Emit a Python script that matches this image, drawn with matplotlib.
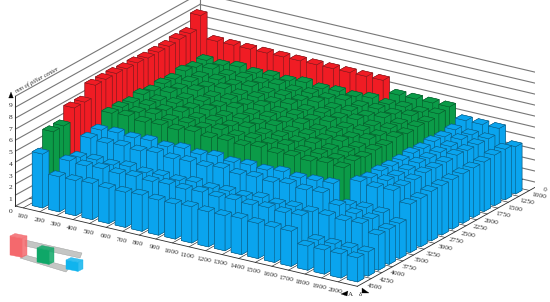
#pillar heights as 3d bars, axonometric view
import numpy as np
import matplotlib
matplotlib.use("Agg")
import matplotlib.pyplot as plt
from matplotlib.patches import Polygon
from mpl_toolkits.mplot3d import proj3d

plt.rcParams['font.family'] = ['Liberation Serif', 'DejaVu Serif']

x_labels = [str(v) for v in range(100, 2100, 100)]
y_labels = ['0', '1000', '1250', '1500', '1750', '2000', '2250', '2500', '2750',
            '3000', '3250', '3500', '3750', '4000', '4250', '4500']
z_labels = [str(v) for v in range(10)]

# one list per row, back row first
row_0 = [9.5, 7.5, 7.5, 7.5, 7.5, 7.5, 7.5, 7.5, 7.5, 7.5, 7.5, 7.5, 6.5, 6.5, 6.5, 6.5, 5.6, 5.6, 5.6, 4.3]
row_1 = [8.4, 6.3, 6.2, 6.4, 6.2, 6.3, 6.2, 6.4, 6.2, 6.3, 6.2, 6.4, 6.2, 6.3, 6.2, 6.4, 5.3, 5.2, 5.2, 4.6]
row_2 = [8.4, 6.2, 6.4, 6.2, 6.3, 6.2, 6.4, 6.2, 6.3, 6.2, 6.4, 6.2, 6.3, 6.2, 6.4, 6.2, 5.2, 5.3, 5.2, 4.6]
row_3 = [8.3, 6.4, 6.2, 6.3, 6.2, 6.4, 6.2, 6.3, 6.2, 6.4, 6.2, 6.3, 6.2, 6.4, 6.2, 6.3, 5.3, 5.2, 5.2, 4.5]
row_4 = [8.3, 6.2, 6.3, 6.2, 6.4, 6.2, 6.3, 6.2, 6.4, 6.2, 6.3, 6.2, 6.4, 6.2, 6.3, 6.2, 5.2, 5.2, 5.3, 4.5]
row_5 = [8.3, 6.3, 6.2, 6.4, 6.2, 6.3, 6.2, 6.4, 6.2, 6.3, 6.2, 6.4, 6.2, 6.3, 6.2, 6.4, 5.3, 5.2, 5.2, 4.5]
row_6 = [8.4, 6.2, 6.4, 6.2, 6.3, 6.2, 6.4, 6.2, 6.3, 6.2, 6.4, 6.2, 6.3, 6.2, 6.4, 6.2, 5.2, 5.3, 5.2, 4.5]
row_7 = [8.4, 6.4, 6.2, 6.3, 6.2, 6.4, 6.2, 6.3, 6.2, 6.4, 6.2, 6.3, 6.2, 6.4, 6.2, 6.3, 5.2, 5.2, 5.3, 4.5]
row_8 = [8.5, 6.2, 6.3, 6.2, 6.4, 6.2, 6.3, 6.2, 6.4, 6.2, 6.3, 6.2, 6.4, 6.2, 6.3, 6.2, 5.3, 5.2, 5.2, 4.5]
row_9 = [8.5, 6.3, 6.2, 6.4, 6.2, 6.3, 6.2, 6.4, 6.2, 6.3, 6.2, 6.4, 6.2, 6.3, 6.2, 6.4, 5.2, 5.3, 5.2, 4.4]
row_10 = [8.5, 6.3, 6.4, 6.2, 6.3, 6.2, 6.4, 6.2, 6.3, 6.2, 6.4, 6.2, 6.3, 6.2, 6.4, 6.3, 5.4, 5.2, 5.3, 4.4]
row_11 = [7.5, 5.3, 5.4, 5.3, 5.4, 5.2, 5.4, 5.2, 5.4, 5.2, 5.3, 5.2, 5.4, 5.2, 5.3, 5.4, 3.8, 3.9, 3.8, 3.2]
row_12 = [7.5, 5.1, 5.0, 5.1, 5.0, 5.2, 5.0, 5.1, 5.0, 5.2, 5.0, 5.1, 5.0, 5.2, 5.0, 5.1, 4.3, 3.9, 3.8, 3.2]
row_13 = [6.4, 3.9, 4.0, 3.9, 4.1, 3.9, 4.0, 3.9, 4.1, 3.9, 4.0, 3.9, 4.1, 3.9, 4.0, 3.9, 3.9, 3.8, 3.9, 3.2]
row_14 = [6.4, 4.1, 4.0, 4.1, 4.0, 4.1, 4.0, 4.1, 4.0, 4.1, 4.0, 4.1, 4.0, 4.1, 4.0, 4.1, 2.2, 2.2, 2.2, 2.2]
row_15 = [4.9, 3.2, 3.2, 3.3, 3.2, 3.2, 3.3, 3.2, 3.2, 3.3, 3.2, 3.2, 3.3, 3.2, 3.2, 3.2, 2.2, 2.2, 2.2, 2.2]
heights = np.array([row_0, row_1, row_2, row_3, row_4, row_5, row_6, row_7, row_8,
                    row_9, row_10, row_11, row_12, row_13, row_14, row_15])

red = '#f01c24'
green = '#0b9b48'
blue = '#0aa4ee'
edge = {red: '#7d1a1e', green: '#075a2b', blue: '#0b5a80'}
ink = '#2a2a2a'

fig = plt.figure(figsize=(5.5, 3.02), dpi=100)
S = 527
ax = fig.add_axes([8/550, -108.5/302, S/550, S/302], projection='3d', proj_type='ortho')
ax.set_box_aspect((408, 339, 118))
ax.view_init(elev=21.2, azim=-57)
ax.set_axis_off()
ax.patch.set_alpha(0)
ax.computed_zorder = False

nx = heights.shape[1]
ny = heights.shape[0]
x0, x1 = -0.67, 19.95
y0, y1 = -1.37, 16.13
ax.set_xlim(x0, x1)
ax.set_ylim(y1, y0)
ax.set_zlim(0, 10)

# walls and floor
wall = '#777777'
for z in range(0, 11):
    ax.plot([x0, x0], [y1, y0], [z, z], color=wall, lw=0.8, zorder=1)
    ax.plot([x0, x1], [y0, y0], [z, z], color=wall, lw=0.8, zorder=1)
ax.plot([x0, x0], [y1, y1], [0, 10], color=ink, lw=0.7, zorder=1)
ax.plot([x1, x1], [y0, y0], [0, 10], color=wall, lw=0.8, zorder=1)
ax.plot([x0, x0], [y0, y0], [0, 10], color=wall, lw=0.8, zorder=1)
ax.plot([x0, x1], [y1, y1], [0, 0], color=ink, lw=0.6, zorder=1)
ax.plot([x1, x1], [y0, y1], [0, 0], color=ink, lw=0.6, zorder=1)
for i in range(nx):
    ax.plot([i - 0.2, i - 0.2], [y0, y1], [0, 0], color=ink, lw=0.45, zorder=1)
for j in range(ny):
    ax.plot([x0, x1], [j - 0.2, j - 0.2], [0, 0], color=ink, lw=0.45, zorder=1)

# bars
xx, yy = np.meshgrid(np.arange(nx), np.arange(ny))
hs = heights.ravel()
cols = [red if h >= 7 else green if h >= 5.8 else blue for h in hs]
edges = [edge[c] for c in cols for _ in range(6)]
ax.bar3d(xx.ravel(), yy.ravel(), np.zeros_like(hs), 0.63, 0.6, hs, color=cols, shade=False,
         edgecolor=edges, linewidth=0.35, zorder=2)

# tick labels, projected to plain 2d text
M = ax.get_proj()
def label(x, y, z, s, **kw):
    px, py, _ = proj3d.proj_transform(x, y, z, M)
    ax.text2D(px, py, s, transform=ax.transData, color=ink, clip_on=False, **kw)

for i, t in enumerate(x_labels):
    label(i * 0.993 + 0.46, y1 + 1.1, 0, t, fontsize=5.4, ha='center', va='center', rotation=-10)
label(x1 + 0.58, y0 + 0.63, 0, y_labels[0], fontsize=5.4, ha='center', va='center', rotation=-10)
for j, t in enumerate(y_labels[1:]):
    label(x1 + 0.78, y0 + 1.515 + j * 1.114, 0, t, fontsize=5.4, ha='center', va='center', rotation=-10)
for z, t in enumerate(z_labels):
    label(x0 - 0.3, y1, z * 1.07 - 0.6, t, fontsize=5.4, ha='center', va='center')
label(x0 + 0.05, y1 - 0.1, 10.2, 'mm of pillar center', fontsize=4.5, rotation=28.5,
      ha='left', va='bottom', style='italic', rotation_mode='anchor')

# legend glyph and axis arrows, drawn in pixels
ov = fig.add_axes([0, 0, 1, 1])
ov.set_xlim(0, 550)
ov.set_ylim(302, 0)
ov.set_axis_off()
ov.patch.set_alpha(0)
grey = '#c4c6c4'
ov.add_patch(Polygon([(25, 240), (82, 253), (80, 258), (25, 246)], fc=grey, ec='#999999', lw=0.3))
ov.add_patch(Polygon([(25, 255), (70, 267), (66, 272), (20, 258)], fc=grey, ec='#999999', lw=0.3))
def cube(x, y, w1, w2, h, c):
    ov.add_patch(Polygon([(x, y), (x + w1, y + w1*0.2), (x + w1, y + w1*0.2 + h), (x, y + h)], fc=c, ec=c, lw=0.3))
    ov.add_patch(Polygon([(x + w1, y + w1*0.2), (x + w1 + w2, y + w1*0.2 - w2*0.5), (x + w1 + w2, y + w1*0.2 - w2*0.5 + h), (x + w1, y + w1*0.2 + h)], fc=c, ec=c, lw=0.3, alpha=0.85))
    ov.add_patch(Polygon([(x, y), (x + w2, y - w2*0.5), (x + w1 + w2, y + w1*0.2 - w2*0.5), (x + w1, y + w1*0.2)], fc=c, ec=c, lw=0.3, alpha=0.85))
cube(10, 236, 12, 5, 19, '#f4696d')
cube(37, 248, 12, 5, 14, '#0fa768')
cube(66, 260, 12, 5, 9, '#10b4ee')
ov.add_patch(Polygon([(341, 294), (348, 291), (347, 296)], fc='k', ec='k', lw=0.2))
ov.add_patch(Polygon([(369, 293), (362, 288), (362, 293)], fc='k', ec='k', lw=0.2))
ov.add_patch(Polygon([(11, 92), (8.7, 98), (13.3, 98)], fc='k', ec='k', lw=0.2))
ov.text(350, 295, 'A', fontsize=5, ha='center', va='center', color=ink)
ov.text(360, 295, 'δ', fontsize=5, ha='center', va='center', color=ink)

fig.savefig('out.png', dpi=100)
